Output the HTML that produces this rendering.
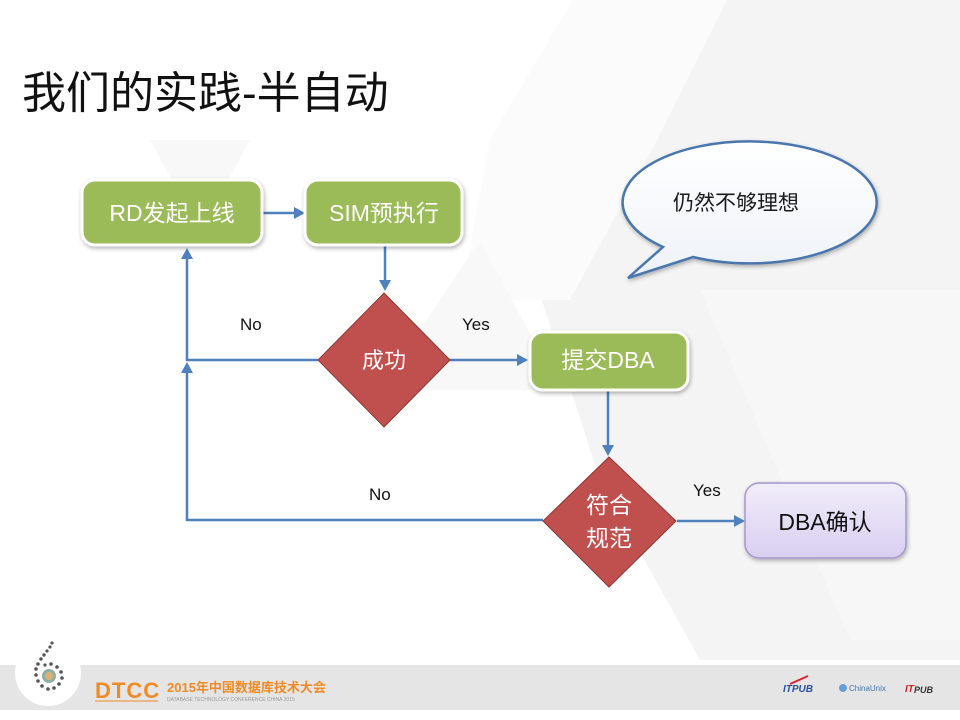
<!DOCTYPE html>
<html><head><meta charset="utf-8">
<style>
html,body{margin:0;padding:0;background:#fff;}
svg{display:block;}
text{font-family:"Liberation Sans","Noto Sans CJK SC",sans-serif;}
</style></head>
<body>
<svg width="960" height="720" viewBox="0 0 960 720" xmlns="http://www.w3.org/2000/svg">
<defs>
<filter id="sh" x="-20%" y="-20%" width="140%" height="150%">
<feDropShadow dx="1" dy="2" stdDeviation="2" flood-color="#000" flood-opacity="0.3"/>
</filter>
<linearGradient id="pg" x1="0" y1="0" x2="0" y2="1">
<stop offset="0" stop-color="#f1edfa"/><stop offset="1" stop-color="#d8cff0"/>
</linearGradient>
<linearGradient id="cg" x1="0" y1="0" x2="0" y2="1">
<stop offset="0" stop-color="#ffffff"/><stop offset="1" stop-color="#eef2f8"/>
</linearGradient>
</defs>

<!-- background -->
<rect width="960" height="720" fill="#ffffff"/>
<polygon points="573,0 960,0 960,660 700,660 600,480 490,140" fill="#f4f4f4"/>
<polygon points="573,0 727,0 657,140 570,300 460,300 490,140" fill="#fbfbfb"/>
<polygon points="700,290 960,290 960,640 850,640" fill="#f7f7f7"/>
<polygon points="150,140 250,140 200,230" fill="#f8f8f8"/>
<polygon points="420,330 480,240 560,390 420,390" fill="#f8f8f8"/>

<!-- title -->
<text x="22" y="108" font-size="44" fill="#111">我们的实践-半自动</text>

<!-- connectors -->
<g stroke="#4f81bd" stroke-width="2.5" fill="none">
<line x1="262" y1="213" x2="296" y2="213"/>
<line x1="385" y1="245" x2="385" y2="282"/>
<line x1="450" y1="360" x2="518" y2="360"/>
<line x1="608" y1="390" x2="608" y2="447"/>
<line x1="677" y1="521" x2="735" y2="521"/>
<polyline points="318,360 187,360 187,256"/>
<polyline points="543,520 187,520 187,372"/>
</g>
<g fill="#4f81bd">
<polygon points="305,213 294,207 294,219"/>
<polygon points="385,291 379,280 391,280"/>
<polygon points="528,360 517,354 517,366"/>
<polygon points="608,456 602,445 614,445"/>
<polygon points="745,521 734,515 734,527"/>
<polygon points="187,248 181,259 193,259"/>
<polygon points="187,362 181,373 193,373"/>
</g>

<!-- green boxes -->
<g filter="url(#sh)">
<rect x="82" y="180" width="180" height="65" rx="13" fill="#9bbb59" stroke="#fff" stroke-width="3"/>
<rect x="305" y="180" width="157" height="65" rx="13" fill="#9bbb59" stroke="#fff" stroke-width="3"/>
<rect x="530" y="332" width="158" height="58" rx="13" fill="#9bbb59" stroke="#fff" stroke-width="3"/>
</g>
<text x="172" y="221" font-size="23" fill="#fff" text-anchor="middle">RD发起上线</text>
<text x="384" y="221" font-size="23" fill="#fff" text-anchor="middle">SIM预执行</text>
<text x="608" y="368" font-size="23" fill="#fff" text-anchor="middle">提交DBA</text>

<!-- diamonds -->
<polygon points="384,293 450,360 384,427 318,360" fill="#c0504d" stroke="#8c3836" stroke-width="1"/>
<text x="384" y="368" font-size="22" fill="#fff" text-anchor="middle">成功</text>
<polygon points="609,457 676,521 609,587 543,521" fill="#c0504d" stroke="#8c3836" stroke-width="1"/>
<text x="609" y="513" font-size="23" fill="#fff" text-anchor="middle">符合</text>
<text x="609" y="546" font-size="23" fill="#fff" text-anchor="middle">规范</text>

<!-- purple box -->
<rect x="745" y="483" width="161" height="75" rx="14" fill="url(#pg)" stroke="#a396cc" stroke-width="1.5" filter="url(#sh)"/>
<text x="825" y="530" font-size="23" fill="#111" text-anchor="middle">DBA确认</text>

<!-- labels -->
<text x="240" y="330" font-size="17" fill="#111">No</text>
<text x="462" y="330" font-size="17" fill="#111">Yes</text>
<text x="369" y="500" font-size="17" fill="#111">No</text>
<text x="693" y="496" font-size="17" fill="#111">Yes</text>

<!-- callout -->
<path d="M663,247 L628,278 L693,257 A127,61 0 1 0 663,247 Z" fill="url(#cg)" stroke="#4a76ad" stroke-width="2.5" filter="url(#sh)"/>
<text x="736" y="210" font-size="21" fill="#1a1a1a" text-anchor="middle">仍然不够理想</text>

<!-- footer -->
<rect x="0" y="665" width="960" height="45" fill="#e5e5e5"/>
<circle cx="48" cy="673" r="33" fill="#ffffff"/>
<g fill="#555">
<circle cx="52" cy="643" r="1.6"/><circle cx="50" cy="647" r="1.6"/><circle cx="47" cy="651" r="1.6"/>
<circle cx="44" cy="655" r="1.7"/><circle cx="41" cy="659" r="1.7"/><circle cx="38" cy="664" r="1.8"/>
<circle cx="36" cy="669" r="1.8"/><circle cx="36" cy="675" r="1.8"/><circle cx="38" cy="681" r="1.8"/>
<circle cx="42" cy="686" r="1.8"/><circle cx="48" cy="689" r="1.8"/><circle cx="54" cy="688" r="1.8"/>
<circle cx="59" cy="684" r="1.8"/><circle cx="62" cy="678" r="1.8"/><circle cx="61" cy="672" r="1.8"/>
<circle cx="57" cy="667" r="1.8"/><circle cx="51" cy="664" r="1.8"/><circle cx="45" cy="665" r="1.6"/>
</g>
<circle cx="49" cy="676" r="7" fill="#8fb0a0"/>
<circle cx="49" cy="676" r="4" fill="#d9b27a"/>
<text x="95" y="698" font-size="22" fill="#f08a24" font-weight="bold" letter-spacing="1">DTCC</text>
<line x1="95" y1="701" x2="158" y2="701" stroke="#f08a24" stroke-width="1"/>
<text x="167" y="692" font-size="13" fill="#f08a24" font-weight="bold">2015年中国数据库技术大会</text>
<text x="167" y="701" font-size="5" fill="#999">DATABASE TECHNOLOGY CONFERENCE CHINA 2015</text>
<text x="783" y="692" font-size="10" fill="#2a4f9c" font-weight="bold" font-style="italic">ITPUB</text>
<path d="M790,684 L808,676" stroke="#d23" stroke-width="2"/>
<circle cx="843" cy="688" r="4" fill="#6a9ed0"/>
<text x="849" y="691" font-size="8" fill="#4477aa">ChinaUnix</text>
<text x="905" y="692" font-size="10" fill="#c22" font-weight="bold" font-style="italic">IT</text>
<text x="914" y="693" font-size="9" fill="#333" font-weight="bold" font-style="italic">PUB</text>
</svg>
</body></html>
